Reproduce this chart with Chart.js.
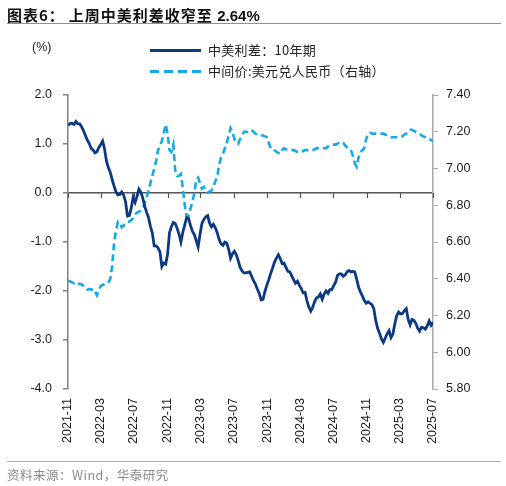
<!DOCTYPE html>
<html>
<head>
<meta charset="utf-8">
<script src="https://cdn.jsdelivr.net/npm/chart.js@4.4.1/dist/chart.umd.min.js"></script>
<style>
  html, body { margin:0; padding:0; background:#fff; }
  #wrap { position:relative; width:506px; height:486px; overflow:hidden; }
  #c { position:absolute; left:0; top:0; }
  .t { position:absolute; white-space:nowrap; }
  #title { left:7px; top:4px; font-family:"Noto Sans CJK SC","Liberation Sans",sans-serif; font-weight:bold; font-size:15px; letter-spacing:1px; color:#111; }
  #title .n { font-family:"Liberation Sans",Arial,sans-serif; letter-spacing:0; }
  #title .g { margin-left:4px; }
  #hline { position:absolute; left:7px; top:23px; width:494px; height:0; border-top:1.5px solid #6f97c8; }
  #fline { position:absolute; left:7px; top:461px; width:494px; height:0; border-top:1.5px solid #8fb0d8; }
  #foot { left:7px; top:465px; font-family:"Noto Sans CJK SC",sans-serif; font-size:12.5px; letter-spacing:0.5px; color:#8a8a8a; }
  #unit { left:32px; top:40px; font-family:"Liberation Sans",Arial,sans-serif; font-size:12.5px; color:#222; }
  .lg { left:208px; font-family:"Noto Sans CJK SC",sans-serif; font-size:13px; color:#222; letter-spacing:0.3px; }
  #l1 { top:40px; } #l2 { top:61px; }
  #s1 { position:absolute; left:150px; top:49px; width:51px; height:3px; background:#0b3a80; }
  #s2 { position:absolute; left:150px; top:70px; width:51px; height:3px;
        background:repeating-linear-gradient(90deg,#14aaea 0 9px,transparent 9px 14px); }
</style>
</head>
<body>
<div id="wrap">
  <canvas id="c" width="506" height="486"></canvas>
  <div class="t" id="title">图表6：<span class="g">上周中美利差收窄至 </span><span class="n">2.64%</span></div>
  <div id="hline"></div>
  <div class="t" id="unit">(%)</div>
  <div id="s1"></div><div class="t lg" id="l1">中美利差：10年期</div>
  <div id="s2"></div><div class="t lg" id="l2">中间价:美元兑人民币（右轴）</div>
  <div id="fline"></div>
  <div class="t" id="foot">资料来源：Wind，华泰研究</div>
</div>
<script>
// ---- data (weekly observations, first week starting 2021-11-02) ----
const startDate = '2021-11-02';
const tickLabels = ['2021-11','2022-03','2022-07','2022-11','2023-03','2023-07','2023-11','2024-03','2024-07','2024-11','2025-03','2025-07'];
const spreadLabel = '中美利差：10年期';
const fxLabel = '中间价:美元兑人民币（右轴）';

const spread10y = [
 1.38,1.42,1.42,1.40,1.46,1.41,1.41,1.35,1.27,1.17,
 1.08,1.01,0.91,0.88,0.82,0.84,0.93,0.99,1.06,0.90,
 0.65,0.52,0.42,0.27,0.14,0.02,-0.04,-0.03,0.02,-0.04,
 -0.18,-0.47,-0.46,-0.30,-0.08,-0.19,-0.07,0.08,0.02,-0.10,
 -0.27,-0.39,-0.50,-0.68,-0.81,-1.08,-1.08,-1.12,-1.20,-1.50,
 -1.43,-1.45,-1.25,-0.81,-0.69,-0.60,-0.62,-0.72,-0.84,-1.00,
 -0.80,-0.65,-0.50,-0.52,-0.66,-0.78,-0.85,-0.97,-1.10,-0.84,
 -0.62,-0.54,-0.49,-0.46,-0.61,-0.69,-0.64,-0.71,-0.81,-0.95,
 -1.04,-1.07,-1.00,-1.02,-1.15,-1.33,-1.24,-1.19,-1.26,-1.38,
 -1.52,-1.59,-1.63,-1.63,-1.62,-1.61,-1.70,-1.79,-1.86,-1.96,
 -2.05,-2.18,-2.17,-2.01,-1.88,-1.77,-1.64,-1.53,-1.41,-1.33,
 -1.26,-1.34,-1.44,-1.43,-1.52,-1.60,-1.61,-1.69,-1.77,-1.84,
 -1.80,-1.88,-1.95,-2.04,-2.03,-2.20,-2.33,-2.41,-2.33,-2.22,
 -2.14,-2.12,-2.06,-2.17,-2.06,-2.00,-2.05,-1.97,-1.97,-1.89,
 -1.82,-1.68,-1.65,-1.65,-1.70,-1.67,-1.61,-1.58,-1.61,-1.60,
 -1.61,-1.75,-1.92,-2.02,-2.10,-2.19,-2.25,-2.22,-2.25,-2.28,
 -2.36,-2.60,-2.76,-2.86,-2.98,-3.05,-2.96,-2.87,-2.81,-2.95,
 -2.88,-2.67,-2.50,-2.43,-2.47,-2.46,-2.40,-2.36,-2.58,-2.69,
 -2.58,-2.60,-2.66,-2.76,-2.82,-2.74,-2.75,-2.78,-2.71,-2.61,
 -2.70,-2.64
];

const usdcnyMid = [
 6.390,6.385,6.380,6.375,6.380,6.380,6.370,6.370,6.360,6.350,
 6.340,6.345,6.340,6.345,6.330,6.310,6.340,6.360,6.366,6.370,
 6.375,6.380,6.400,6.470,6.600,6.660,6.710,6.700,6.680,6.690,
 6.700,6.710,6.710,6.720,6.730,6.750,6.760,6.765,6.770,6.780,
 6.810,6.840,6.880,6.920,6.960,7.000,7.040,7.100,7.120,7.150,
 7.190,7.240,7.190,7.100,7.090,7.130,6.990,6.960,6.960,6.970,
 6.890,6.800,6.740,6.740,6.780,6.820,6.865,6.940,6.950,6.920,
 6.890,6.900,6.880,6.870,6.875,6.880,6.900,6.930,6.955,7.020,
 7.060,7.080,7.110,7.140,7.180,7.220,7.200,7.160,7.140,7.135,
 7.160,7.180,7.200,7.200,7.200,7.205,7.210,7.200,7.190,7.185,
 7.180,7.180,7.180,7.175,7.170,7.140,7.110,7.110,7.100,7.090,
 7.085,7.080,7.100,7.110,7.105,7.100,7.100,7.100,7.100,7.095,
 7.090,7.090,7.090,7.095,7.100,7.100,7.100,7.100,7.100,7.105,
 7.110,7.110,7.110,7.110,7.110,7.110,7.120,7.125,7.130,7.130,
 7.130,7.135,7.140,7.145,7.140,7.125,7.115,7.110,7.100,7.070,
 7.030,7.010,7.060,7.090,7.100,7.110,7.160,7.190,7.195,7.190,
 7.190,7.190,7.190,7.190,7.190,7.190,7.185,7.180,7.175,7.170,
 7.170,7.170,7.170,7.170,7.170,7.175,7.185,7.190,7.200,7.210,
 7.210,7.205,7.200,7.195,7.190,7.180,7.175,7.170,7.165,7.160,
 7.155,7.150
];

// ---- weekly time stamps (categories) ----
const DAY = 86400000;
const t0 = Date.parse(startDate);
const weekTimes = spread10y.map((_, i) => t0 + i * 7 * DAY);
const tickTimes = tickLabels.map(l => Date.parse(l + '-01'));

Chart.defaults.font.family = '"Liberation Sans", Arial, sans-serif';
Chart.defaults.font.size = 12.5;
Chart.defaults.color = '#1a1a1a';

const zeroTicks = {
  id: 'zeroTicks',
  afterDatasetsDraw(chart) {
    const x = chart.scales.x, y = chart.scales.y, ctx = chart.ctx;
    const y0 = y.getPixelForValue(0);
    ctx.save();
    ctx.strokeStyle = '#555';
    ctx.lineWidth = 1.2;
    ctx.beginPath();
    tickTimes.forEach(tv => {
      const px = Math.round(x.getPixelForValue(tv)) + 0.5;
      ctx.moveTo(px, y0);
      ctx.lineTo(px, y0 + 5);
    });
    ctx.stroke();
    ctx.restore();
  }
};

new Chart(document.getElementById('c'), {
  type: 'line',
  data: {
    datasets: [
      {
        label: spreadLabel,
        data: spread10y.map((v, i) => ({ x: weekTimes[i], y: v })),
        yAxisID: 'y',
        borderColor: '#0b3a80',
        borderWidth: 2.8,
        pointRadius: 0,
        tension: 0,
        order: 1
      },
      {
        label: fxLabel,
        data: usdcnyMid.map((v, i) => ({ x: weekTimes[i], y: v })),
        yAxisID: 'y1',
        borderColor: '#14aaea',
        borderWidth: 2.6,
        borderDash: [7, 4],
        pointRadius: 0,
        tension: 0,
        order: 2
      }
    ]
  },
  options: {
    responsive: false,
    animation: false,
    devicePixelRatio: 1,
    layout: { padding: { top: 95, left: 0, right: 0, bottom: 0 } },
    plugins: { legend: { display: false }, tooltip: { enabled: false } },
    scales: {
      x: {
        type: 'linear',
        min: tickTimes[0],
        max: tickTimes[tickTimes.length - 1],
        afterBuildTicks: s => { s.ticks = tickTimes.map(v => ({ value: v })); },
        afterFit: s => { s.height = 97; },
        grid: { display: false, drawTicks: false },
        border: { display: false },
        ticks: {
          autoSkip: false,
          minRotation: 90,
          maxRotation: 90,
          padding: 9,
          color: '#1a1a1a',
          callback: (v, i) => tickLabels[i]
        }
      },
      y: {
        position: 'left',
        min: -4, max: 2,
        afterBuildTicks: s => { s.ticks = [-4,-3,-2,-1,0,1,2].map(v => ({ value: v })); },
        afterFit: s => { s.width = 68; },
        grid: {
          drawOnChartArea: true,
          color: c => (c.tick && c.tick.value === 0) ? '#555' : 'rgba(0,0,0,0)',
          lineWidth: 1.5,
          tickColor: '#808080',
          tickLength: 5
        },
        border: { display: true, color: '#808080', width: 1.5 },
        ticks: { padding: 11, callback: v => Number(v).toFixed(1) }
      },
      y1: {
        position: 'right',
        min: 5.8, max: 7.4,
        afterBuildTicks: s => { s.ticks = [5.8,6.0,6.2,6.4,6.6,6.8,7.0,7.2,7.4].map(v => ({ value: v })); },
        afterFit: s => { s.width = 73; },
        grid: { drawOnChartArea: false, tickColor: '#a8a8a8', tickLength: 5 },
        border: { display: true, color: '#a8a8a8', width: 1.5 },
        ticks: { padding: 8, callback: v => Number(v).toFixed(2) }
      }
    }
  },
  plugins: [zeroTicks]
});
</script>
</body>
</html>
